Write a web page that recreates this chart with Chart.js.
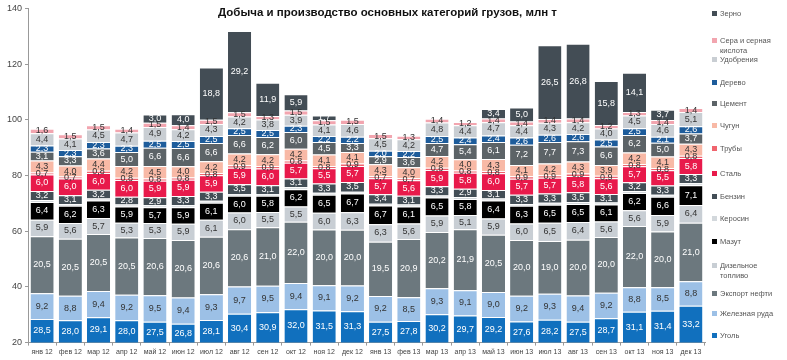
<!DOCTYPE html>
<html>
<head>
<meta charset="utf-8">
<script src="https://cdn.jsdelivr.net/npm/chart.js@4/dist/chart.umd.min.js"></script>
<style>
  body { margin: 0; background: #fff; }
  #wrap { position: relative; width: 787px; height: 360px; }
  #title { position: absolute; left: 0; width: 775px; top: 6px; text-align: center;
           font: bold 11.5px "Liberation Sans", Arial, sans-serif; color: #111; pointer-events: none; }
  #legend { position: absolute; left: 712px; top: 0; width: 75px; height: 360px;
            font: 7.5px "Liberation Sans", Arial, sans-serif; color: #555; }
  .item { position: absolute; left: 0; display: flex; align-items: flex-start; line-height: 10px; }
  .box { width: 5px; height: 5px; margin: 2px 3px 0 0; flex: none; }
</style>
</head>
<body>
<div id="wrap">
  <canvas id="chart" width="787" height="360"></canvas>
  <div id="title">Добыча и производство основных категорий грузов, млн т</div>
  <div id="legend"></div>
</div>
<script>
const months = ['янв 12','фев 12','мар 12','апр 12','май 12','июн 12','июл 12','авг 12','сен 12','окт 12','ноя 12','дек 12',
                'янв 13','фев 13','мар 13','апр 13','май 13','июн 13','июл 13','авг 13','сен 13','окт 13','ноя 13','дек 13'];

const coal      = [28.5,28.0,29.1,28.0,27.5,26.8,28.1,30.4,30.9,32.0,31.5,31.3, 27.5,27.8,30.2,29.7,29.2,27.6,28.2,27.5,28.7,31.1,31.4,33.2];
const ironOre   = [9.2,8.8,9.4,9.2,9.5,9.4,9.3,9.7,9.5,9.4,9.1,9.2, 9.2,8.5,9.3,9.1,9.0,9.2,9.3,9.4,9.2,8.8,8.5,8.8];
const oilExport = [20.5,20.5,20.5,20.5,20.6,20.6,20.6,20.6,21.0,22.0,20.0,20.0, 19.5,20.9,20.2,21.9,20.5,20.0,19.0,20.0,20.0,22.0,20.0,21.0];
const diesel    = [5.9,5.6,5.7,5.3,5.3,5.9,6.1,6.0,5.5,5.5,6.0,6.3, 6.3,5.6,5.9,5.1,5.9,6.0,6.5,6.4,5.6,5.6,5.9,6.4];
const fuelOil   = [6.4,6.2,6.3,5.9,5.7,5.9,6.1,6.0,5.8,6.2,6.5,6.7, 6.7,6.1,6.5,5.8,6.4,6.3,6.5,6.5,6.1,6.2,6.6,7.1];
const kerosene  = [0.7,0.7,0.7,0.7,0.7,0.7,0.7,0.7,0.7,0.7,0.7,0.7, 0.7,0.7,0.7,0.7,0.7,0.7,0.7,0.7,0.7,0.7,0.7,0.7];
const gasoline  = [3.2,3.1,3.2,2.8,2.9,3.3,3.3,3.5,3.1,3.1,3.3,3.5, 3.4,3.1,3.3,2.9,3.1,3.3,3.3,3.5,3.1,3.2,3.3,3.3];
const steel     = [6.0,6.0,6.0,6.0,5.9,5.9,5.9,5.9,6.0,5.7,5.5,5.7, 5.7,5.6,5.9,5.8,6.0,5.7,5.7,5.8,5.6,5.7,5.5,5.8];
const pipes     = [0.7,0.7,0.8,0.8,0.8,0.8,0.8,0.9,0.9,0.8,0.8,0.9, 0.7,0.7,0.8,0.8,0.8,0.9,0.9,0.9,0.9,0.8,0.8,0.8];
const pigIron   = [4.3,4.0,4.4,4.2,4.5,4.0,4.2,4.2,4.2,4.2,4.1,4.1, 4.3,4.0,4.2,4.0,4.3,4.1,4.2,4.3,3.9,4.2,4.1,4.3];
const cement    = [3.1,3.3,3.6,5.0,6.6,6.6,6.6,6.6,6.2,6.0,4.5,3.3, 2.9,3.6,4.7,5.4,6.1,7.2,7.7,7.3,6.6,6.2,5.0,3.7];
const timber    = [2.3,2.3,2.3,2.3,2.5,2.5,2.5,2.5,2.5,2.3,2.2,2.2, 2.0,2.2,2.5,2.4,2.4,2.6,2.6,2.6,2.5,2.5,2.1,2.6];
const fertil    = [4.4,4.1,4.5,4.7,4.9,4.2,4.3,4.2,3.8,3.9,4.1,4.6, 4.5,4.2,4.8,4.4,4.7,4.4,4.3,4.2,4.0,4.5,4.6,5.1];
const sulphur   = [1.6,1.5,1.5,1.4,1.5,1.4,1.5,1.5,1.3,1.5,1.5,1.5, 1.5,1.3,1.4,1.2,1.4,1.4,1.4,1.4,1.2,1.3,1.4,1.4];
const grain     = [null,null,null,null,3.0,4.0,18.8,29.2,11.9,5.9,1.7,null, null,null,null,null,3.4,5.0,26.5,26.8,15.8,14.1,3.7,null];

const yTicks = [20, 40, 60, 80, 100, 120, 140];

// bottom to top
const series = [
  { label: 'Уголь', data: coal, color: '#1170BE', text: '#fff' },
  { label: 'Железная руда', data: ironOre, color: '#9CC0E6', text: '#333' },
  { label: 'Экспорт  нефти', data: oilExport, color: '#6C787E', text: '#fff' },
  { label: 'Дизельное топливо', data: diesel, color: '#C8CED4', text: '#333' },
  { label: 'Мазут', data: fuelOil, color: '#000000', text: '#fff' },
  { label: 'Керосин', data: kerosene, color: '#D3D8DC', text: null },
  { label: 'Бензин', data: gasoline, color: '#434E56', text: '#fff' },
  { label: 'Сталь', data: steel, color: '#E81A4B', text: '#fff' },
  { label: 'Трубы', data: pipes, color: '#F0646E', text: '#333' },
  { label: 'Чугун', data: pigIron, color: '#F8B9A6', text: '#333' },
  { label: 'Цемент', data: cement, color: '#5C6367', text: '#fff' },
  { label: 'Дерево', data: timber, color: '#1D5C9B', text: '#fff' },
  { label: 'Удобрения', data: fertil, color: '#C9CED3', text: '#333' },
  { label: 'Сера  и  серная кислота', data: sulphur, color: '#F2A5AF', text: '#333' },
  { label: 'Зерно', data: grain, color: '#434D55', text: '#fff' }
];

const legendTops = [336, 314, 294, 266, 242, 219, 197, 174, 149, 126, 104, 83, 60, 41, 14];

const barLabels = {
  id: 'barLabels',
  afterDatasetsDraw(chart) {
    const ctx = chart.ctx;
    const area = chart.chartArea;
    ctx.save();
    ctx.font = '9px "Liberation Sans", Arial, sans-serif';
    ctx.textAlign = 'center';
    ctx.textBaseline = 'middle';
    chart.data.datasets.forEach((ds, i) => {
      if (!ds.textColor) return;
      chart.getDatasetMeta(i).data.forEach((bar, j) => {
        const v = ds.data[j];
        if (v == null) return;
        const top = Math.max(bar.y, area.top);
        const bottom = Math.min(bar.base, area.bottom);
        ctx.fillStyle = ds.textColor;
        ctx.fillText(v.toFixed(1).replace('.', ','), bar.x, (top + bottom) / 2);
      });
    });
    ctx.restore();
  }
};

new Chart(document.getElementById('chart'), {
  type: 'bar',
  data: {
    labels: months,
    datasets: series.map(s => ({
      label: s.label,
      data: s.data,
      backgroundColor: s.color,
      borderColor: '#ffffff',
      borderWidth: { top: 1, bottom: 0, left: 0, right: 0 },
      borderSkipped: false,
      textColor: s.text,
      barPercentage: 0.82,
      categoryPercentage: 1
    }))
  },
  options: {
    responsive: false,
    animation: false,
    layout: { padding: { left: 4, right: 82, top: 1, bottom: 2 } },
    plugins: {
      legend: { display: false },
      title: { display: false },
      tooltip: { enabled: false }
    },
    scales: {
      x: {
        stacked: true,
        grid: { display: true, drawOnChartArea: false, drawTicks: true, tickLength: 3, color: '#999' },
        border: { color: '#999' },
        ticks: { color: '#444', font: { size: 7, family: '"Liberation Sans", Arial, sans-serif' }, maxRotation: 0, padding: 2 }
      },
      y: {
        stacked: true,
        min: 20,
        max: 140,
        afterBuildTicks: axis => { axis.ticks = yTicks.map(v => ({ value: v })); },
        grid: { display: true, drawOnChartArea: false, drawTicks: true, tickLength: 3, color: '#999' },
        border: { color: '#999' },
        ticks: { color: '#444', font: { size: 9, family: '"Liberation Sans", Arial, sans-serif' }, padding: 3 }
      }
    }
  },
  plugins: [barLabels]
});

// legend, top item = last series
const legend = document.getElementById('legend');
series.forEach((s, i) => {
  const el = document.createElement('div');
  el.className = 'item';
  el.style.top = (legendTops[i] - 5) + 'px';
  const box = document.createElement('span');
  box.className = 'box';
  box.style.background = s.color;
  const txt = document.createElement('span');
  txt.textContent = s.label;
  el.appendChild(box);
  el.appendChild(txt);
  legend.appendChild(el);
});
</script>
</body>
</html>
